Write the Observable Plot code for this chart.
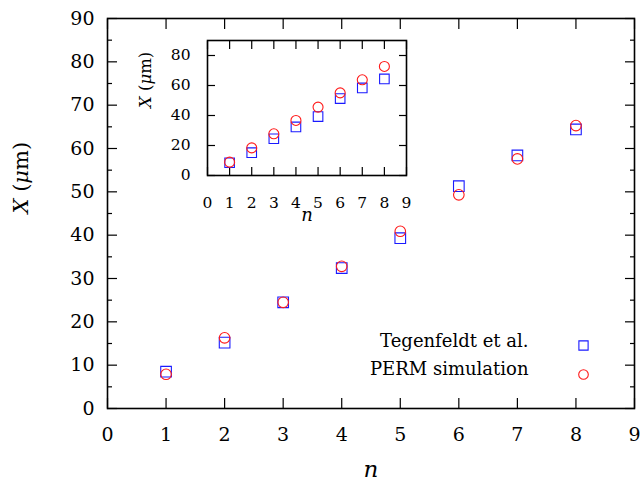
<!DOCTYPE html>
<html><head><meta charset="utf-8">
<script src="https://cdn.jsdelivr.net/npm/d3@7"></script>
<script src="https://cdn.jsdelivr.net/npm/@observablehq/plot@0.6"></script>
<style>
body{margin:0;background:#fff}
#wrap{position:relative;width:643px;height:487px}
#inset{position:absolute;left:130px;top:30px}
#wrap svg{overflow:visible}
</style></head><body><div id="wrap"><div id="main"></div><div id="inset"></div></div>
<script>
// ---- data ----
const n = [1, 2, 3, 4, 5, 6, 7, 8];
const tegenfeldt = [8.5, 15.2, 24.5, 32.4, 39.3, 51.3, 58.4, 64.4];
const permMain = [7.9, 16.3, 24.5, 32.8, 40.9, 49.3, 57.6, 65.3];
const permInset = [8.9, 18.4, 27.8, 36.7, 45.6, 55.1, 63.8, 72.7];
const xTicks = [0, 1, 2, 3, 4, 5, 6, 7, 8, 9];
const yTicksMain = [0, 10, 20, 30, 40, 50, 60, 70, 80, 90];
const yMinorMain = [5, 15, 25, 35, 45, 55, 65, 75, 85];
const yTicksInset = [0, 20, 40, 60, 80];
const seriesNames = ["Tegenfeldt et al.", "PERM simulation"];
const yLabel = "X (μm)";
const xLabel = "n";

const mainRows = n.map((v, i) => ({n: v, teg: tegenfeldt[i], perm: permMain[i]}));
const insetRows = n.map((v, i) => ({n: v, teg: tegenfeldt[i], perm: permInset[i]}));

const FONT = "DejaVu Serif";
const BLUE = "#1a1aff", RED = "#ff1a1a";
const blank = () => "";

const main = Plot.plot({
  width: 643, height: 487,
  marginLeft: 107, marginRight: 9, marginTop: 18, marginBottom: 79,
  style: {fontFamily: FONT, background: "white", color: "#000"},
  x: {domain: [0, 9]},
  y: {domain: [0, 90]},
  marks: [
    Plot.axisX(xTicks, {tickSize: 0, tickPadding: 19, label: null, fontSize: 19}),
    Plot.axisX(xTicks, {tickSize: -10, tickFormat: blank, label: null, strokeWidth: 1.2}),
    Plot.axisX(xTicks, {anchor: "top", tickSize: -10, tickFormat: blank, label: null, strokeWidth: 1.2}),
    Plot.axisY(yTicksMain, {tickSize: 0, tickPadding: 13, label: null, fontSize: 19}),
    Plot.axisY(yTicksMain, {tickSize: -10, tickFormat: blank, label: null, strokeWidth: 1.2}),
    Plot.axisY(yMinorMain, {tickSize: -5, tickFormat: blank, label: null, strokeWidth: 1.2}),
    Plot.axisY(yTicksMain, {anchor: "right", tickSize: -10, tickFormat: blank, label: null, strokeWidth: 1.2}),
    Plot.axisY(yMinorMain, {anchor: "right", tickSize: -5, tickFormat: blank, label: null, strokeWidth: 1.2}),
    Plot.frame({stroke: "#000", strokeWidth: 1.6}),
    Plot.dot(mainRows, {x: "n", y: "teg", symbol: "square", r: 6, stroke: BLUE, strokeWidth: 1.1}),
    Plot.dot(mainRows, {x: "n", y: "perm", symbol: "circle", r: 5.3, stroke: RED, strokeWidth: 1.1}),
    // legend
    Plot.text([seriesNames[0]], {frameAnchor: "bottom-right", dx: -106, dy: -62, textAnchor: "end", fontSize: 18}),
    Plot.text([seriesNames[1]], {frameAnchor: "bottom-right", dx: -106, dy: -34, textAnchor: "end", fontSize: 18}),
    Plot.dot([seriesNames[0]], {frameAnchor: "bottom-right", dx: -51, dy: -63, symbol: "square", r: 5.2, stroke: BLUE, strokeWidth: 1.1}),
    Plot.dot([seriesNames[1]], {frameAnchor: "bottom-right", dx: -51, dy: -34, symbol: "circle", r: 4.8, stroke: RED, strokeWidth: 1.1}),
    // axis labels
    Plot.text([yLabel], {frameAnchor: "left", dx: -86, rotate: -90, fontSize: 21}),
    Plot.text([xLabel], {frameAnchor: "bottom", dy: 68, fontSize: 23, fontStyle: "italic"})
  ]
});
document.getElementById("main").append(main);

const inset = Plot.plot({
  width: 280, height: 200,
  marginLeft: 77, marginRight: 4, marginTop: 10, marginBottom: 55,
  style: {fontFamily: FONT, background: "none", color: "#000"},
  x: {domain: [0, 9]},
  y: {domain: [0, 90]},
  marks: [
    Plot.axisX(xTicks, {tickSize: 0, tickPadding: 21, label: null, fontSize: 15.5}),
    Plot.axisX(xTicks, {tickSize: -8, tickFormat: blank, label: null, strokeWidth: 1.2}),
    Plot.axisX(xTicks, {anchor: "top", tickSize: -8, tickFormat: blank, label: null, strokeWidth: 1.2}),
    Plot.axisY(yTicksInset, {tickSize: 0, tickPadding: 17, label: null, fontSize: 15.5}),
    Plot.axisY(yTicksInset, {tickSize: -8, tickFormat: blank, label: null, strokeWidth: 1.2}),
    Plot.axisY(yTicksInset, {anchor: "right", tickSize: -8, tickFormat: blank, label: null, strokeWidth: 1.2}),
    Plot.frame({stroke: "#000", strokeWidth: 1.6}),
    Plot.dot(insetRows, {x: "n", y: "teg", symbol: "square", r: 5.4, stroke: BLUE, strokeWidth: 1.1}),
    Plot.dot(insetRows, {x: "n", y: "perm", symbol: "circle", r: 5, stroke: RED, strokeWidth: 1.1}),
    Plot.text([yLabel], {frameAnchor: "left", dx: -62, rotate: -90, fontSize: 16.5}),
    Plot.text([xLabel], {frameAnchor: "bottom", dy: 45, fontSize: 18, fontStyle: "italic"})
  ]
});
document.getElementById("inset").append(inset);

for (const svg of [main, inset]) {
  const s = d3.select(svg);
  s.attr("font-family", FONT).style("font-family", FONT);
  // italicise X and μ in the y labels
  s.selectAll("text").each(function () {
    if (this.textContent === yLabel) {
      const t = d3.select(this);
      t.text(null);
      t.append("tspan").attr("font-style", "italic").text("X");
      t.append("tspan").text(" (");
      t.append("tspan").attr("font-style", "italic").text("μ");
      t.append("tspan").text("m)");
    }
  });
}
</script></body></html>
